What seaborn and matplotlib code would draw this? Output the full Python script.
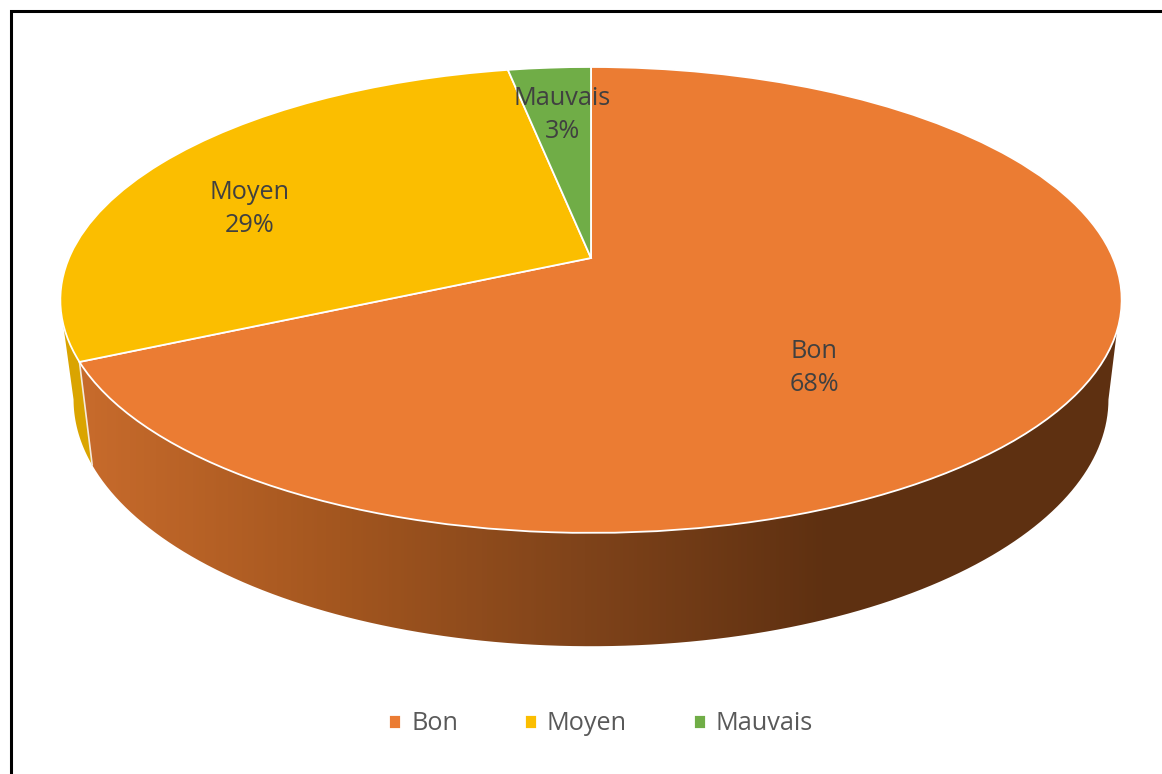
import numpy as np
import matplotlib
matplotlib.use("Agg")
import matplotlib.pyplot as plt
import seaborn as sns
from matplotlib.colors import LinearSegmentedColormap
from matplotlib.patches import PathPatch
from matplotlib.path import Path

categories = ["Bon", "Moyen", "Mauvais"]
values = [68, 29, 3]
colors = ["#EB7C33", "#FBBE00", "#70AD47"]

sns.set_theme(style="white")
plt.rcParams["font.family"] = ["Open Sans", "DejaVu Sans"]
palette = sns.color_palette(colors)

# perspective of the disc: top face, bottom face
TOP = dict(a=522, b=225.4, y0=258)
BOTTOM = dict(a=509, b=238.8, y0=355)
CX, K = 591, 0.18


def warp(u, v, face):
    d = 1 + K * v
    return CX + face["a"] * u / d, face["y0"] - face["b"] * v / d


def rim(deg, face):
    t = np.radians(deg)
    return np.column_stack(warp(np.sin(t), np.cos(t), face))


fig = plt.figure(figsize=(11.62, 7.74), dpi=100)
ax = fig.add_axes([0, 0, 1, 1])
wedges, _ = ax.pie(values, colors=palette, startangle=90, counterclock=False)
ax.set_aspect("auto")
ax.set_xlim(0, 1162)
ax.set_ylim(774, 0)
ax.axis("off")

# Side wall
bounds = np.cumsum(values) / np.sum(values) * 360
split = bounds[0]
edge_a, edge_b = 107.8, 360 - 106
sil_a, sil_b = 100.4, 360 - 100.4

orange_wall = np.vstack([
    rim(np.linspace(edge_a, split, 120), TOP),
    rim(np.linspace(split, sil_a, 120), BOTTOM),
])
yellow_wall = np.vstack([
    rim(np.linspace(split, edge_b, 20), TOP),
    rim(np.linspace(sil_b, split, 20), BOTTOM),
])

clip = PathPatch(Path(orange_wall, closed=False), facecolor="none", edgecolor="none")
ax.add_patch(clip)
shade = LinearSegmentedColormap.from_list(
    "wall", ["#C66A2B", "#A3561F", "#7F431A", "#5E3011"]
)
xs = np.arange(60, 1162)
grad = np.clip((xs - 92) / (830 - 92), 0, 1).reshape(1, -1)
im = ax.imshow(grad, cmap=shade, extent=(60, 1162, 774, 0), aspect="auto", zorder=1)
im.set_clip_path(clip)
ax.set_xlim(0, 1162)
ax.set_ylim(774, 0)
ax.fill(yellow_wall[:, 0], yellow_wall[:, 1], color="#DAA400", lw=0, zorder=1)

seam = np.vstack([rim(np.array([split]), TOP), rim(np.array([split]), BOTTOM)])
ax.plot(seam[:, 0], seam[:, 1], color="#F4E9DC", lw=1.2, zorder=2)

# Top face, from the pie wedges
handles = []
for w, col in zip(wedges, palette):
    p = w.get_path()
    x, y = warp(p.vertices[:, 0], p.vertices[:, 1], TOP)
    patch = PathPatch(Path(np.column_stack([x, y]), p.codes), facecolor=col,
                      edgecolor="white", lw=1.3, zorder=3)
    ax.add_patch(patch)
    w.set_visible(False)
    handles.append(patch)

# Labels
label_pos = [(814, 368), (250, 209), (562, 115)]
for name, val, (lx, ly) in zip(categories, values, label_pos):
    ax.text(lx, ly, f"{name}\n{val}%", ha="center", va="center", fontsize=18.2,
            color="#404040", linespacing=1.39, zorder=4)

# Legend
px = 1 / 25.3
ax.legend(handles, categories, ncol=3, loc="center", bbox_to_anchor=(601, 724),
          bbox_transform=ax.transData, frameon=False, fontsize=18.2,
          labelcolor="#595959", handlelength=12 * px, handleheight=12 * px,
          handletextpad=10 * px, columnspacing=67 * px, borderpad=0)

# Frame, only left and top were kept in the picture
ax.plot([10.5, 10.5, 1162], [774, 10.5, 10.5], color="black", lw=2.2, zorder=5,
        solid_joinstyle="miter")

fig.savefig("out.png", dpi=100)
plt.close()
